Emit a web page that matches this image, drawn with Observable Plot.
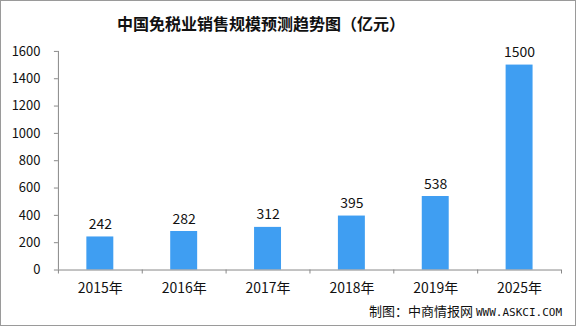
<!DOCTYPE html>
<html>
<head>
<meta charset="utf-8">
<script src="https://cdn.jsdelivr.net/npm/d3@7"></script>
<script src="https://cdn.jsdelivr.net/npm/@observablehq/plot@0.6"></script>
<style>
  html, body { margin: 0; padding: 0; background: #fff; }
  #wrap { position: relative; width: 576px; height: 326px; box-sizing: border-box; border: 1px solid #9a9a9a; overflow: hidden; font-family: "Noto Sans CJK SC", sans-serif; }
  #chart { position: absolute; left: -1px; top: -1px; }
  #title { position: absolute; left: 116px; top: 9px; white-space: nowrap; font-size: 16px; font-weight: bold; color: #111; line-height: 26px; }
  #caption { position: absolute; right: 13px; top: 300px; font-size: 13px; color: #111; line-height: 20px; white-space: nowrap; }
  #caption .en { font-family: "DejaVu Sans Mono", monospace; font-size: 11px; }
</style>
</head>
<body>
<div id="wrap">
  <div id="chart"></div>
  <div id="title">中国免税业销售规模预测趋势图（亿元）</div>
  <div id="caption">制图：中商情报网 <span class="en">WWW.ASKCI.COM</span></div>
</div>
<script>
const years = ["2015年", "2016年", "2017年", "2018年", "2019年", "2025年"];
const sales = [242, 282, 312, 395, 538, 1500];
const yTicks = [0, 200, 400, 600, 800, 1000, 1200, 1400, 1600];

const data = years.map((y, i) => ({year: y, i, value: sales[i]}));
const axisColor = "#888";
const font = "Noto Sans CJK SC, sans-serif";

const chart = Plot.plot({
  width: 576,
  height: 326,
  marginTop: 51,
  marginBottom: 56,
  marginLeft: 58,
  marginRight: 14,
  style: {fontFamily: font, fontSize: "13px", color: "#111", background: "transparent"},
  x: {type: "linear", domain: [0, years.length]},
  y: {domain: [0, 1600]},
  marks: [
    Plot.rectY(data, {x1: "i", x2: d => d.i + 1, y: "value", fill: "#3f9ef2", insetLeft: 28.5, insetRight: 28.5}),
    Plot.text(data, {x: d => d.i + 0.5, y: "value", text: d => String(d.value), lineAnchor: "bottom", dy: -8, fontSize: 14, fill: "#111"}),
    Plot.ruleY([0], {stroke: axisColor}),
    Plot.ruleX([0], {stroke: axisColor}),
    Plot.axisY({ticks: yTicks, tickSize: 4, tickPadding: 14, tickFormat: d => String(d), stroke: axisColor, fill: "#111", fontSize: 13, label: null}),
    Plot.axisX({ticks: d3.range(years.length + 1), tickSize: 4, stroke: axisColor, tickFormat: () => "", label: null}),
    Plot.axisX({ticks: years.map((_, i) => i + 0.5), tickSize: 0, tickPadding: 13, tickFormat: v => years[Math.round(v - 0.5)], fontSize: 14, fill: "#111", label: null})
  ]
});
document.getElementById("chart").appendChild(chart);
</script>
</body>
</html>
